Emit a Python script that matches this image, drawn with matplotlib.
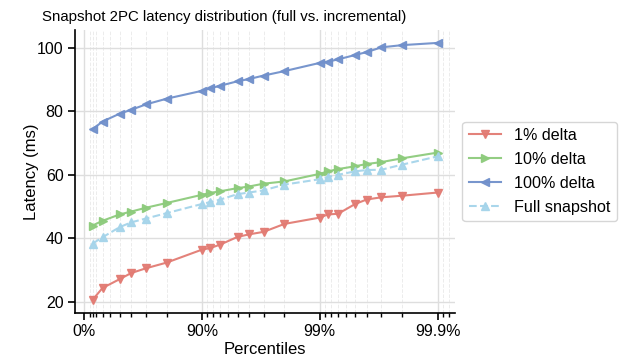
import numpy as np
import matplotlib
matplotlib.use("Agg")
import matplotlib.pyplot as plt
from matplotlib.ticker import FixedLocator, FixedFormatter

plt.rcParams['font.family'] = ['Liberation Sans', 'DejaVu Sans']

# percentiles (fractions) and latencies in ms
percentiles = [0.15, 0.30, 0.50, 0.60, 0.70, 0.80,
               0.90, 0.915, 0.93, 0.95, 0.96, 0.97, 0.98,
               0.99, 0.9915, 0.993, 0.995, 0.996, 0.997, 0.998, 0.999]
delta_1 = [20.6, 24.3, 27.1, 29.0, 30.5, 32.3,
           36.4, 36.9, 38.0, 40.4, 41.2, 42.0, 44.5,
           46.5, 47.5, 47.7, 50.8, 52.2, 52.9, 53.4, 54.4]
delta_10 = [44.0, 45.5, 47.5, 48.4, 49.6, 51.1,
            53.7, 54.3, 54.8, 55.8, 56.3, 57.2, 57.9,
            60.3, 61.1, 61.8, 62.7, 63.4, 64.0, 65.2, 67.0]
delta_100 = [74.4, 76.8, 79.3, 80.5, 82.2, 84.0,
             86.5, 87.3, 88.1, 89.5, 90.2, 91.3, 92.7,
             95.3, 95.7, 96.4, 97.8, 98.7, 100.2, 100.9, 101.6]
full_snapshot = [38.3, 40.3, 43.5, 45.0, 46.2, 47.9,
                 50.8, 51.4, 52.2, 53.9, 54.4, 55.1, 56.9,
                 58.6, 59.3, 60.0, 61.1, 61.5, 61.6, 63.2, 65.8]

major_ticks = [0.0, 0.9, 0.99, 0.999]
major_labels = ['0%', '90%', '99%', '99.9%']
minor_ticks = [0.1, 0.15, 0.2, 0.3, 0.4, 0.5, 0.6, 0.7, 0.8,
               0.91, 0.92, 0.93, 0.94, 0.95, 0.96, 0.97, 0.98,
               0.991, 0.992, 0.993, 0.994, 0.995, 0.996, 0.997, 0.998,
               0.9991, 0.9992]


def fwd(p):
  p = np.asarray(p, dtype=float)
  return -np.log10(np.clip(1.0 - p, 1e-12, None))


def inv(x):
  return 1.0 - 10.0 ** (-np.asarray(x, dtype=float))


def PlotLatency():
  fig = plt.figure(figsize=(6.23, 3.58), dpi=100)
  ax = fig.add_axes([0.121, 0.127, 0.609, 0.789])
  ax.set_xscale('function', functions=(fwd, inv))

  series = [
    (delta_1, '1% delta', '#e27b73', 'v', '-'),
    (delta_10, '10% delta', '#8dcb7c', '>', '-'),
    (delta_100, '100% delta', '#7190cb', '<', '-'),
    (full_snapshot, 'Full snapshot', '#a5d4ea', '^', '--'),
  ]
  for y, label, color, marker, ls in series:
    ax.plot(percentiles, y, color=color, marker=marker, linestyle=ls,
            linewidth=1.5, markersize=6, markeredgewidth=1,
            markerfacecolor=color, markeredgecolor=color, alpha=0.95,
            label=label)

  ax.xaxis.set_major_locator(FixedLocator(major_ticks))
  ax.xaxis.set_major_formatter(FixedFormatter(major_labels))
  ax.xaxis.set_minor_locator(FixedLocator(minor_ticks))
  ax.xaxis.set_minor_formatter(FixedFormatter([''] * len(minor_ticks)))
  ax.set_yticks([20, 40, 60, 80, 100])

  ax.grid(True, which='major', color='#dedede', linewidth=1.0)
  ax.grid(True, which='minor', axis='x', color='#ececec',
          linestyle='--', linewidth=0.7)
  ax.set_axisbelow(True)

  for side in ['top', 'right']:
    ax.spines[side].set_visible(False)
  for side in ['left', 'bottom']:
    ax.spines[side].set_linewidth(1.2)
  ax.tick_params(which='major', direction='out', length=5, width=1.2,
                 labelsize=11.5)
  ax.tick_params(which='minor', direction='out', length=3, width=1.0)

  ax.set_xlabel('Percentiles', fontsize=12, labelpad=2)
  ax.set_ylabel('Latency (ms)', fontsize=12)
  ax.yaxis.set_label_coords(-0.095, 0.5)
  fig.text(42 / 623, 1 - 17 / 358,
           'Snapshot 2PC latency distribution (full vs. incremental)',
           fontsize=10.8, ha='left', va='center')

  ax.legend(loc='center left', bbox_to_anchor=(1.02, 0.5), fontsize=11.6,
            labelspacing=0.55, borderaxespad=0, frameon=True,
            edgecolor='#cccccc', fancybox=True)

  fig.savefig('out.png', dpi=100)


if __name__ == '__main__':
  PlotLatency()
